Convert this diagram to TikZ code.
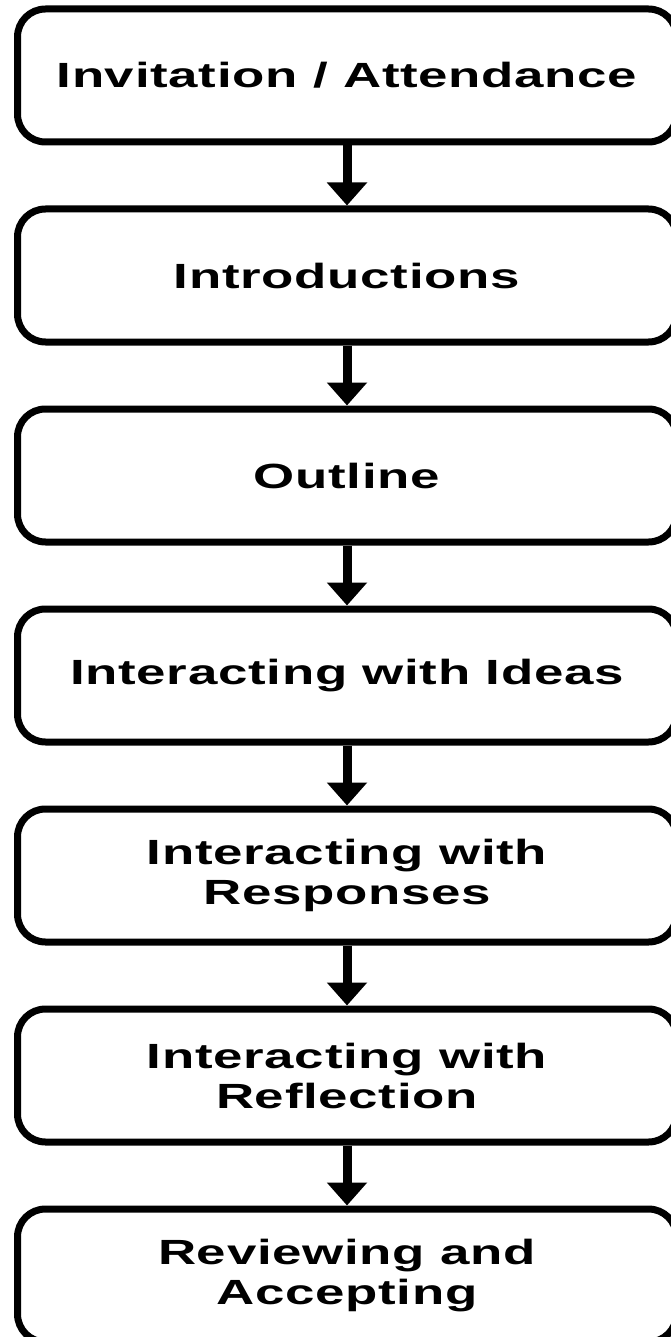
\documentclass[tikz,border=0pt]{standalone}
\usepackage{fontspec}
\newfontfamily\boxfont[FakeStretch=1.51,LetterSpace=2.0]{Liberation Sans}
\usetikzlibrary{arrows.meta}
\tikzset{
  stepbox/.style={draw=black, line width=7pt, rounded corners=28pt,
    minimum width=659pt, minimum height=133pt, inner sep=0pt,
    align=center, font=\boxfont\bfseries\fontsize{35pt}{40pt}\selectfont},
  flowarrow/.style={draw=black, line width=9pt, -{Triangle[width=39pt,length=23pt]}}
}
\begin{document}
\begin{tikzpicture}[x=1pt,y=-1pt]
\useasboundingbox (0,0) rectangle (670,1337);
\node[stepbox] (b1) at (347,75.5) {Invitation / Attendance};
\node[stepbox] (b2) at (347,275.5) {Introductions};
\node[stepbox] (b3) at (347,475.5) {Outline};
\node[stepbox] (b4) at (347,675.5) {Interacting with Ideas};
\node[stepbox] (b5) at (347,875.5) {Interacting with\\Responses};
\node[stepbox] (b6) at (347,1075.5) {Interacting with\\Reflection};
\node[stepbox] (b7) at (347,1275.5) {Reviewing and\\Accepting};
\draw[flowarrow] (b1.south) -- (b2.north);
\draw[flowarrow] (b2.south) -- (b3.north);
\draw[flowarrow] (b3.south) -- (b4.north);
\draw[flowarrow] (b4.south) -- (b5.north);
\draw[flowarrow] (b5.south) -- (b6.north);
\draw[flowarrow] (b6.south) -- (b7.north);
\end{tikzpicture}
\end{document}
